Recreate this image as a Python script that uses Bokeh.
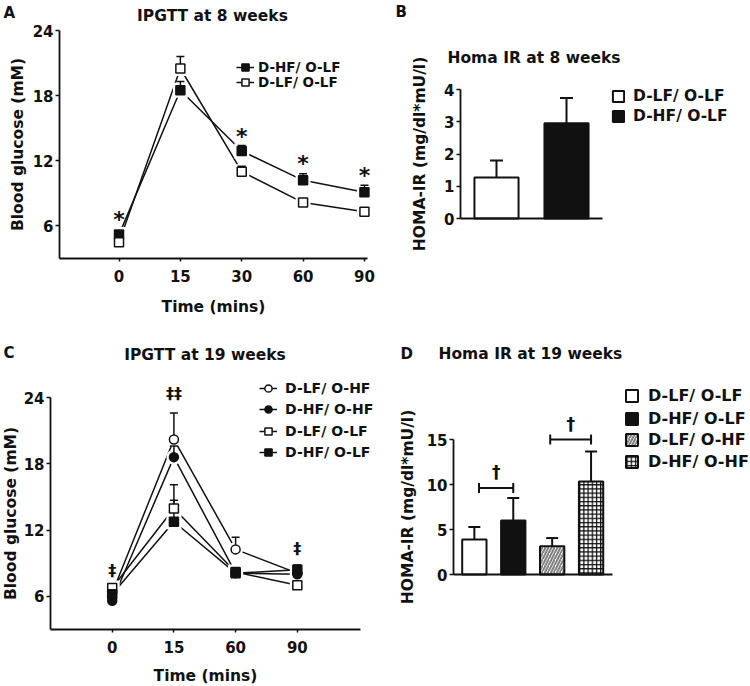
from bokeh.plotting import figure
from bokeh.layouts import column, row
from bokeh.models import (FixedTicker, Legend, LegendItem, Label, Whisker, TeeHead,
                          ColumnDataSource)
from bokeh.embed import file_html
from bokeh.resources import INLINE

FONT = "DejaVu Sans"
INK = "#111111"

# ---------------- data ----------------
# Panel A : IPGTT at 8 weeks
a_times = ["0", "15", "30", "60", "90"]
a_hf_lf_mean = [5.2, 18.5, 12.9, 10.2, 9.1]
a_hf_lf_err = [0.3, 0.8, 0.5, 0.6, 0.65]
a_lf_lf_mean = [4.5, 20.5, 11.0, 8.15, 7.3]
a_lf_lf_err = [0.3, 1.1, 0.5, 0.25, 0.2]
a_star_idx = [0, 2, 3, 4]
a_star_y = [6.55, 14.26, 11.75, 10.6]

# Panel B : HOMA IR at 8 weeks
b_groups = ["D-LF/ O-LF", "D-HF/ O-LF"]
b_mean = [1.27, 2.95]
b_err = [0.53, 0.79]

# Panel C : IPGTT at 19 weeks
c_times = ["0", "15", "60", "90"]
c_lf_hf_mean = [6.3, 20.2, 10.25, 8.1]
c_lf_hf_err = [0.3, 2.4, 1.1, 0.3]
c_hf_hf_mean = [5.6, 18.6, 8.1, 8.0]
c_hf_hf_err = [0.2, 1.0, 0.3, 0.3]
c_lf_lf_mean = [6.75, 13.95, 8.2, 7.0]
c_lf_lf_err = [0.3, 2.15, 0.3, 0.3]
c_hf_lf_mean = [6.2, 12.75, 8.1, 8.4]
c_hf_lf_err = [0.2, 1.95, 0.3, 0.45]
c_sig_idx = [0, 1, 3]
c_sig_text = ["\u2021", "\u2021\u2021", "\u2021"]
c_sig_y = [8.32, 24.4, 10.3]

# Panel D : HOMA IR at 19 weeks
d_groups = ["D-LF/ O-LF", "D-HF/ O-LF", "D-LF/ O-HF", "D-HF/ O-HF"]
d_mean = [3.9, 6.0, 3.15, 10.33]
d_err = [1.37, 2.5, 0.9, 3.34]
d_br_left = [0.12, 1.95]
d_br_right = [1.0, 3.0]
d_br_y = [9.6, 15.0]
d_dag_y = [11.4, 16.7]


# ---------------- helpers ----------------
class Geo:
    """Axis box given in page pixels; the figure frame spans the whole figure."""
    def __init__(self, ox, oy, w, h, fl, fr, ft, fb, xr, yr):
        self.ox, self.oy, self.w, self.h = ox, oy, w, h
        self.fl, self.fr, self.ft, self.fb = fl, fr, ft, fb
        self.xr, self.yr = xr, yr

    def x(self, px):
        return self.xr[0] + (px - self.fl) / (self.fr - self.fl) * (self.xr[1] - self.xr[0])

    def y(self, py):
        return self.yr[0] + (self.fb - py) / (self.fb - self.ft) * (self.yr[1] - self.yr[0])

    def full_x(self):
        return (self.x(self.ox), self.x(self.ox + self.w))

    def full_y(self):
        return (self.y(self.oy + self.h), self.y(self.oy))


def make_fig(g):
    p = figure(width=g.w, height=g.h, x_range=g.full_x(), y_range=g.full_y(),
               output_backend="svg", toolbar_location=None,
               min_border_left=0, min_border_right=0,
               min_border_top=0, min_border_bottom=0)
    p.xgrid.visible = False
    p.ygrid.visible = False
    p.outline_line_color = None
    p.background_fill_color = "white"
    p.border_fill_color = "white"
    p.xaxis[0].fixed_location = g.yr[0]
    p.xaxis[0].bounds = g.xr
    p.yaxis[0].fixed_location = g.xr[0]
    p.yaxis[0].bounds = g.yr
    for ax in (p.xaxis[0], p.yaxis[0]):
        ax.axis_line_width = 1.8
        ax.axis_line_color = INK
        ax.major_tick_line_width = 1.5
        ax.major_tick_line_color = INK
        ax.minor_tick_line_color = None
        ax.major_tick_in = 0
        ax.major_label_text_font = FONT
        ax.major_label_text_font_style = "bold"
        ax.major_label_text_font_size = "15px"
        ax.major_label_text_color = INK
        ax.axis_label_text_font = FONT
        ax.axis_label_text_font_style = "bold"
        ax.axis_label_text_font_size = "15.5px"
        ax.axis_label_text_color = INK
    p.yaxis[0].major_tick_out = 4
    p.yaxis[0].major_label_standoff = 2
    p.xaxis[0].major_tick_out = 3
    return p


def text(p, g, px, py, s, size="15.5px", align="left"):
    p.add_layout(Label(x=g.x(px), y=g.y(py), text=s, text_font=FONT,
                       text_font_style="bold", text_font_size=size,
                       text_color=INK, text_align=align,
                       text_baseline="middle"))


def legend_item(p, g, label, renderers, glyph_left, cy, size, gw, gh, standoff):
    leg = Legend(items=[LegendItem(label=label, renderers=renderers)],
                 location=(int(round(glyph_left - g.ox)),
                           int(round(g.oy + g.h - cy - gh / 2.0))),
                 orientation="vertical", padding=0, margin=0, spacing=0,
                 glyph_width=int(gw), glyph_height=int(gh), label_height=int(gh),
                 label_width=10, label_standoff=int(round(standoff)),
                 label_text_font=FONT, label_text_font_style="bold",
                 label_text_font_size=size, label_text_color=INK,
                 border_line_color=None, background_fill_alpha=0)
    p.add_layout(leg)


def series(p, idx, mean, err, marker, filled, halo_list, err_list, mark_list):
    line = p.line(idx, mean, line_width=1.5, line_color=INK)
    tops = [m + e for m, e in zip(mean, err)]
    halo_list.append((idx, mean, marker))
    err_list.append((idx, mean, tops))
    mark_list.append((idx, mean, marker, filled))
    return line


def draw_series(p, halos, errs, marks):
    for idx, mean, marker in halos:
        p.scatter(idx, mean, marker=marker, size=15, fill_color="white", line_color=None)
    for idx, mean, tops in errs:
        p.segment(x0=idx, y0=mean, x1=idx, y1=tops, line_width=1.5, line_color=INK)
        p.scatter(idx, tops, marker="dash", size=8, line_width=1.5, line_color=INK)
    rs = []
    for idx, mean, marker, filled in marks:
        rs.append(p.scatter(idx, mean, marker=marker, size=9, line_width=1.5,
                            line_color=INK, fill_color=INK if filled else "white"))
    return rs


# ---------------- Panel A ----------------
gA = Geo(0, 0, 375, 343, 59, 367, 30, 258, (-0.97, 4.05), (3, 24))
pA = make_fig(gA)
ia = list(range(len(a_times)))
pA.yaxis[0].ticker = FixedTicker(ticks=[6, 12, 18, 24])
pA.xaxis[0].ticker = FixedTicker(ticks=ia)
pA.xaxis[0].major_label_overrides = {i: t for i, t in enumerate(a_times)}
pA.xaxis[0].major_label_standoff = 8
pA.xaxis[0].axis_label_standoff = 13
pA.yaxis[0].axis_label_standoff = 3
pA.xaxis[0].axis_label = "Time (mins)"
pA.yaxis[0].axis_label = "Blood glucose (mM)"
H, E, M = [], [], []
lA1 = series(pA, ia, a_hf_lf_mean, a_hf_lf_err, "square", True, H, E, M)
lA2 = series(pA, ia, a_lf_lf_mean, a_lf_lf_err, "square", False, H, E, M)
mA1, mA2 = draw_series(pA, H, E, M)
for i, yv in zip(a_star_idx, a_star_y):
    pA.add_layout(Label(x=i, y=yv, text="*", text_font=FONT, text_font_style="bold",
                        text_font_size="22px", text_align="center",
                        text_baseline="middle", text_color=INK))
legend_item(pA, gA, "D-HF/ O-LF", [lA1, mA1], 236, 67, "13.5px", 18, 18, 4)
legend_item(pA, gA, "D-LF/ O-LF", [lA2, mA2], 236, 82, "13.5px", 18, 18, 4)
text(pA, gA, 3, 12, "A", "15px")
text(pA, gA, 212, 15, "IPGTT at 8 weeks", "15.5px", "center")

# ---------------- Panel B ----------------
gB = Geo(375, 0, 374, 343, 460, 602, 89, 218, (-0.514, 1.514), (0, 4))
pB = make_fig(gB)
pB.yaxis[0].ticker = FixedTicker(ticks=[0, 1, 2, 3, 4])
pB.xaxis[0].ticker = FixedTicker(ticks=[])
pB.yaxis[0].axis_label = "HOMA-IR (mg/dl*mU/l)"
pB.yaxis[0].axis_label_standoff = 12
b_fill = ["white", INK]
b_r = []
for i, g in enumerate(b_groups):
    b_r.append(pB.vbar(x=[i], top=[b_mean[i]], bottom=0, width=0.63,
                       fill_color=b_fill[i], line_color=INK, line_width=2))
ib = list(range(len(b_groups)))
b_tops = [m + e for m, e in zip(b_mean, b_err)]
pB.segment(x0=ib, y0=b_mean, x1=ib, y1=b_tops, line_width=2, line_color=INK)
pB.scatter(ib, b_tops, marker="dash", size=13, line_width=2, line_color=INK)
for i, g in enumerate(b_groups):
    legend_item(pB, gB, g, [b_r[i]], 611, [98, 118][i], "15.5px", 14, 14, 8)
text(pB, gB, 395, 11, "B", "15px")
text(pB, gB, 447, 57, "Homa IR at 8 weeks", "15.5px")

# ---------------- Panel C ----------------
gC = Geo(0, 343, 375, 342, 50, 360, 397, 629, (-1.0, 4.024), (3, 24))
pC = make_fig(gC)
ic = list(range(len(c_times)))
pC.yaxis[0].ticker = FixedTicker(ticks=[6, 12, 18, 24])
pC.xaxis[0].ticker = FixedTicker(ticks=ic)
pC.xaxis[0].major_label_overrides = {i: t for i, t in enumerate(c_times)}
pC.xaxis[0].major_label_standoff = 8
pC.xaxis[0].axis_label_standoff = 11
pC.yaxis[0].axis_label_standoff = 1
pC.xaxis[0].axis_label = "Time (mins)"
pC.yaxis[0].axis_label = "Blood glucose (mM)"
H, E, M = [], [], []
lC1 = series(pC, ic, c_lf_hf_mean, c_lf_hf_err, "circle", False, H, E, M)
lC2 = series(pC, ic, c_hf_hf_mean, c_hf_hf_err, "circle", True, H, E, M)
lC3 = series(pC, ic, c_lf_lf_mean, c_lf_lf_err, "square", False, H, E, M)
lC4 = series(pC, ic, c_hf_lf_mean, c_hf_lf_err, "square", True, H, E, M)
mC = draw_series(pC, H, E, M)
for i, s, yv in zip(c_sig_idx, c_sig_text, c_sig_y):
    pC.add_layout(Label(x=i, y=yv, text=s, text_font=FONT, text_font_style="bold",
                        text_font_size="16px", text_align="center",
                        text_baseline="middle", text_color=INK))
c_labels = ["D-LF/ O-HF", "D-HF/ O-HF", "D-LF/ O-LF", "D-HF/ O-LF"]
c_lines = [lC1, lC2, lC3, lC4]
for k, cy in enumerate([388, 409, 430.7, 452]):
    legend_item(pC, gC, c_labels[k], [c_lines[k], mC[k]], 259, cy, "14px", 18, 18, 8)
text(pC, gC, 3, 352, "C", "15px")
text(pC, gC, 204.5, 354, "IPGTT at 19 weeks", "15.5px", "center")

# ---------------- Panel D ----------------
gD = Geo(375, 343, 374, 342, 453, 612, 439, 574, (-0.536, 3.551), (0, 15))
pD = make_fig(gD)
pD.yaxis[0].ticker = FixedTicker(ticks=[0, 5, 10, 15])
pD.xaxis[0].ticker = FixedTicker(ticks=[])
pD.yaxis[0].axis_label = "HOMA-IR (mg/dl*mU/l)"
pD.yaxis[0].axis_label_standoff = 7
d_style = [
    dict(fill_color="white"),
    dict(fill_color=INK),
    dict(fill_color="white", hatch_pattern="right_diagonal_line", hatch_color="#808080",
         hatch_scale=6, hatch_weight=2),
    dict(fill_color="white", hatch_pattern="cross", hatch_color=INK,
         hatch_scale=4.2, hatch_weight=1.3),
]
d_r = []
for i, g in enumerate(d_groups):
    d_r.append(pD.vbar(x=[i], top=[d_mean[i]], bottom=0, width=0.625,
                       line_color=INK, line_width=2, **d_style[i]))
idd = list(range(len(d_groups)))
d_tops = [m + e for m, e in zip(d_mean, d_err)]
pD.segment(x0=idd, y0=d_mean, x1=idd, y1=d_tops, line_width=2, line_color=INK)
pD.scatter(idd, d_tops, marker="dash", size=12, line_width=2, line_color=INK)
pD.add_layout(Whisker(source=ColumnDataSource(dict(base=d_br_y, lower=d_br_left, upper=d_br_right)),
                      base="base", lower="lower", upper="upper", dimension="width",
                      line_width=2, line_color=INK, level="overlay",
                      lower_head=TeeHead(size=10, line_width=2, line_color=INK),
                      upper_head=TeeHead(size=10, line_width=2, line_color=INK)))
for l, r_, yv in zip(d_br_left, d_br_right, d_dag_y):
    pD.add_layout(Label(x=(l + r_) / 2.0, y=yv, text="\u2020", text_font=FONT,
                        text_font_style="bold", text_font_size="17px", text_align="center",
                        text_baseline="middle", text_color=INK))
for k, cy in enumerate([398, 420.3, 442, 463]):
    legend_item(pD, gD, d_groups[k], [d_r[k]], 624, cy, "16px", 15, 15, 9)
text(pD, gD, 400, 353, "D", "15px")
text(pD, gD, 438, 353, "Homa IR at 19 weeks", "15.5px")

layout = column(row(pA, pB), row(pC, pD))
open("out.html", "w").write(file_html(layout, INLINE))
